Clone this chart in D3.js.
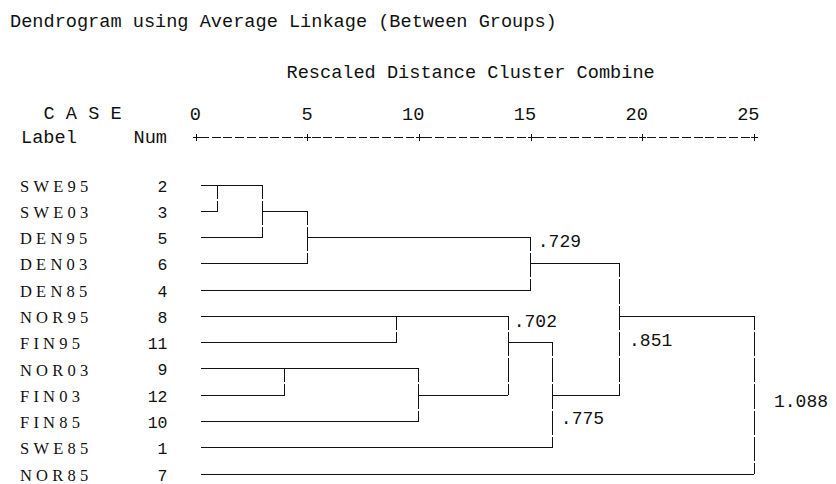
<!DOCTYPE html>
<html><head><meta charset="utf-8">
<script src="https://cdn.jsdelivr.net/npm/d3@7/dist/d3.min.js"></script>
<style>body{margin:0;background:#fff}svg{display:block}</style>
</head><body><svg id="c" width="836" height="484"></svg>
<script>
// ---- data ----
const caseLabels = ["SWE95","SWE03","DEN95","DEN03","DEN85","NOR95","FIN95","NOR03","FIN03","FIN85","SWE85","NOR85"];
const caseNums   = [2,3,5,6,4,8,11,9,12,10,1,7];
// node ids 0..11 = leaves in row order; merges get ids 12, 13, ...
const mergeLeft   = [0,12,7,13,5,14,16,15,18,19,21];
const mergeRight  = [1,2,8,3,6,9,17,4,10,20,11];
const mergeHeight = [1,3,4,5,9,10,14,15,16,19,25];   // rescaled distance
const noteText = [".729",".702",".851",".775","1.088"];
const noteNode = [19,18,21,20,22];
const tickValues = [0,5,10,15,20,25];
const titleText = "Dendrogram using Average Linkage (Between Groups)";
const subtitleText = "Rescaled Distance Cluster Combine";

// ---- layout ----
const svg = d3.select("#c");
const mono = "'Liberation Mono', monospace";
const serif = "'Liberation Serif', serif";
const ink = "#111";
const x = d3.scaleLinear().domain([0,25]).range([195.5,754]);
const y = d3.scaleLinear().domain([0,caseLabels.length-1]).range([185,474]);
const axisY = 137;

// header texts
svg.append("text").attr("x",10).attr("y",27).attr("font-family",mono).attr("font-size",18.6)
  .attr("fill",ink).text(titleText);
svg.append("text").attr("x",286.5).attr("y",77.5).attr("font-family",mono).attr("font-size",18.6)
  .attr("fill",ink).text(subtitleText);
svg.append("text").attr("x",43.5).attr("y",118.5).attr("font-family",mono).attr("font-size",18.6)
  .attr("fill",ink).attr("xml:space","preserve").style("white-space","pre").text("C A S E");
svg.append("text").attr("x",21).attr("y",143).attr("font-family",mono).attr("font-size",18.6)
  .attr("fill",ink).text("Label");
svg.append("text").attr("x",133.5).attr("y",143).attr("font-family",mono).attr("font-size",18.6)
  .attr("fill",ink).text("Num");

// axis
const axis = d3.axisTop(x).tickValues(tickValues).tickFormat(d3.format("d")).tickSize(3.5).tickPadding(14);
const ag = svg.append("g").attr("transform",`translate(0,${axisY})`).call(axis);
ag.select(".domain").remove();
ag.selectAll(".tick line").attr("y1",3.5).attr("y2",-3.5).attr("stroke",ink).attr("shape-rendering","crispEdges");
ag.selectAll(".tick").append("line").attr("x1",-3.5).attr("x2",3.5).attr("y1",0).attr("y2",0)
  .attr("stroke",ink).attr("shape-rendering","crispEdges");
ag.selectAll(".tick text").attr("y",-17.5).attr("dy",null).attr("text-anchor","end").attr("dx",5)
  .attr("font-family",mono).attr("font-size",18.6).attr("fill",ink);
for (let i=0;i<tickValues.length-1;i++){
  const a = x(tickValues[i])+4.5, b = x(tickValues[i+1])-4.5, L = b-a, gap = 2.9, dash = (L-8*gap)/9;
  svg.append("line").attr("x1",a).attr("x2",b).attr("y1",axisY).attr("y2",axisY)
    .attr("stroke",ink).attr("stroke-dasharray",`${dash},${gap}`).attr("shape-rendering","crispEdges");
}

// row labels
const rows = d3.range(caseLabels.length);
svg.append("g").selectAll("text").data(rows).join("text")
  .attr("x",20).attr("y",i=>y(i)+6.6).attr("font-family",serif).attr("font-size",16.5)
  .attr("letter-spacing",4.2).attr("fill",ink).text(i=>caseLabels[i]);
svg.append("g").selectAll("text").data(rows).join("text")
  .attr("x",167.5).attr("y",i=>y(i)+6.5).attr("text-anchor","end").attr("font-family",mono)
  .attr("font-size",16.5).attr("fill",ink).text(i=>caseNums[i]);

// tree geometry
const nLeaf = caseLabels.length;
const nodeRow = [], nodeX = [];
rows.forEach(i=>{ nodeRow[i]=i; nodeX[i]=x(0)+5.5; });
mergeHeight.forEach((h,k)=>{
  const id = nLeaf+k, a = mergeLeft[k], b = mergeRight[k];
  nodeRow[id] = Math.floor((nodeRow[a]+nodeRow[b])/2);
  nodeX[id] = x(h);
});
const g = svg.append("g").attr("stroke",ink).attr("stroke-width",1).attr("fill","none")
  .attr("shape-rendering","crispEdges");
mergeHeight.forEach((h,k)=>{
  const xm = x(h);
  [mergeLeft[k],mergeRight[k]].forEach(c=>{
    g.append("line").attr("x1",nodeX[c]).attr("x2",xm).attr("y1",y(nodeRow[c])).attr("y2",y(nodeRow[c]));
  });
  const r0 = Math.min(nodeRow[mergeLeft[k]],nodeRow[mergeRight[k]]);
  const r1 = Math.max(nodeRow[mergeLeft[k]],nodeRow[mergeRight[k]]);
  let p = "", start = y(r0);
  for (let r=r0;r<r1;r++){ p += `M${xm},${start}V${y(r)+13.5}`; start = y(r)+15.5; }
  p += `M${xm},${start}V${y(r1)}`;
  g.append("path").attr("d",p);
});

// coefficient notes: [dx, row, dy]
const notePlace = [[7.2,2,9.2],[5.5,5,10.3],[9.1,6,3.4],[7.9,9,2.6],[20,8,11.5]];
noteText.forEach((t,i)=>{
  const id = noteNode[i], pl = notePlace[i];
  svg.append("text").attr("x",nodeX[id]+pl[0]).attr("y",y(pl[1])+pl[2])
    .attr("font-family",mono).attr("font-size",18).attr("fill",ink).text(t);
});
</script></body></html>
